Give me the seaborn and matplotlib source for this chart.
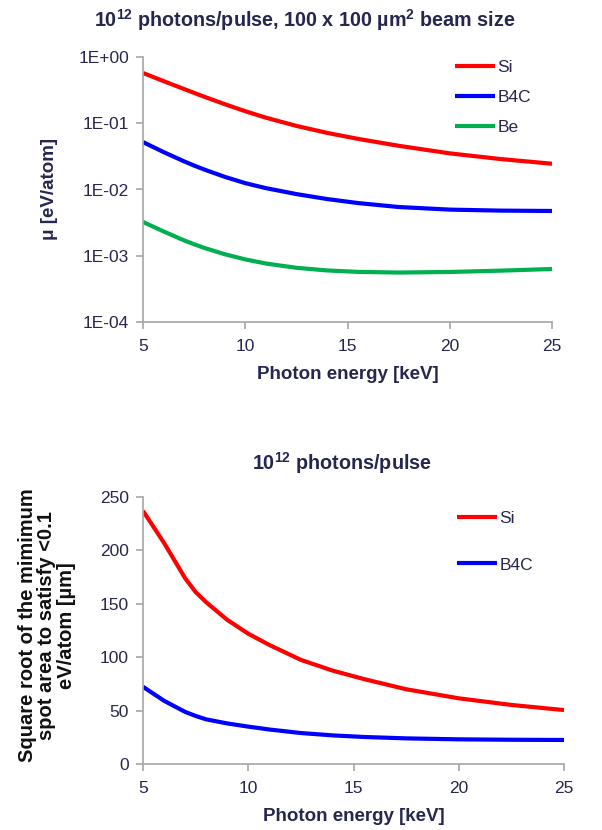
import numpy as np
import pandas as pd
import matplotlib
matplotlib.use("Agg")
import matplotlib.pyplot as plt
import seaborn as sns
from matplotlib.ticker import FixedLocator, FuncFormatter, NullLocator

# ---- data ----
energy = [5, 6, 7, 7.5, 8, 9, 10, 11, 12.5, 14, 15.5, 17.5, 20, 22.5, 25]
mu_si = [0.574, 0.4335, 0.329, 0.2873, 0.251, 0.194, 0.152, 0.1216, 0.0912, 0.0716,
         0.0582, 0.0457, 0.0351, 0.0288, 0.0245]
mu_b4c = [0.0520, 0.0368, 0.02667, 0.02296, 0.0200, 0.01552, 0.01247, 0.01050, 0.00853,
          0.00718, 0.00625, 0.00544, 0.00497, 0.00480, 0.00474]
mu_be = [0.003236, 0.002333, 0.001710, 0.001491, 0.001312, 0.001054, 0.000881, 0.000764,
         0.000658, 0.000600, 0.000571, 0.000558, 0.000569, 0.000596, 0.000631]
spot_si = [237, 207, 174, 161, 151.5, 135, 122, 111.5, 97.5, 87.5, 79.5, 70.0, 61.5, 55.3, 50.5]
spot_b4c = [72.3, 59.2, 48.8, 45.0, 41.8, 38.0, 35.0, 32.3, 29.0, 26.8, 25.3, 24.0, 23.1, 22.7, 22.5]
materials_top = ["Si", "B4C", "Be"]
materials_bot = ["Si", "B4C"]
colors = {"Si": "#FF0000", "B4C": "#0000FF", "Be": "#00B050"}
x_ticks = [5, 10, 15, 20, 25]
y_ticks_top = [1e-4, 1e-3, 1e-2, 1e-1, 1e0]
y_ticks_bot = [0, 50, 100, 150, 200, 250]

top_df = pd.concat([
    pd.DataFrame({"E": energy, "v": vals, "mat": m})
    for m, vals in zip(materials_top, [mu_si, mu_b4c, mu_be])
])
bot_df = pd.concat([
    pd.DataFrame({"E": energy, "v": vals, "mat": m})
    for m, vals in zip(materials_bot, [spot_si, spot_b4c])
])

sns.set_style("white")
plt.rcParams["font.family"] = ["Liberation Sans", "DejaVu Sans"]
plt.rcParams["mathtext.fontset"] = "custom"
plt.rcParams["mathtext.rm"] = "Liberation Sans"
plt.rcParams["mathtext.bf"] = "Liberation Sans:bold"

txt = "#26264E"
spine_c = "#A6A6A6"
fs_tick = 12.5
lw = 3.0

fig = plt.figure(figsize=(6.02, 8.30), dpi=100)
ax1 = fig.add_axes([143/602, 1-322/830, (552-143)/602, (322-57)/830])
ax2 = fig.add_axes([143/602, 1-764/830, (564-143)/602, (764-497)/830])

sns.lineplot(data=top_df, x="E", y="v", hue="mat", palette=colors, ax=ax1,
             linewidth=lw, legend=True)
sns.lineplot(data=bot_df, x="E", y="v", hue="mat", palette=colors, ax=ax2,
             linewidth=lw, legend=True)
for ax in (ax1, ax2):
    for ln in ax.get_lines():
        ln.set_solid_joinstyle("round")
        ln.set_solid_capstyle("butt")

ax1.set_yscale("log")
ax1.set_ylim(1e-4, 1)
ax1.yaxis.set_major_locator(FixedLocator(y_ticks_top))
ax1.yaxis.set_minor_locator(NullLocator())
ax1.yaxis.set_major_formatter(FuncFormatter(lambda v, p: "1E%+03d" % int(round(np.log10(v)))))
ax2.set_ylim(0, 250)
ax2.set_yticks(y_ticks_bot)

for ax in (ax1, ax2):
    ax.set_xlim(5, 25)
    ax.set_xticks(x_ticks)
    for s in ("top", "right"):
        ax.spines[s].set_visible(False)
    for s in ("left", "bottom"):
        ax.spines[s].set_color(spine_c)
        ax.spines[s].set_linewidth(1.2)
    ax.tick_params(axis="both", which="major", direction="out", length=5,
                   width=1.2, color=spine_c, labelsize=fs_tick, labelcolor=txt,
                   left=True, bottom=True, pad=5)
    ax.tick_params(axis="x", pad=7)
    ax.set_xlabel("Photon energy [keV]", fontsize=13.5, fontweight="bold",
                  color=txt, labelpad=9)

leg1 = ax1.legend(frameon=False, fontsize=fs_tick, handlelength=2.3,
                  handletextpad=0.15, loc="upper left", labelspacing=0.84,
                  borderpad=0, borderaxespad=0,
                  bbox_to_anchor=((455-143)/409, (322-60)/265), labelcolor=txt)
for h in leg1.get_lines():
    h.set_linewidth(lw)
leg2 = ax2.legend(frameon=False, fontsize=fs_tick, handlelength=2.3,
                  handletextpad=0.15, loc="upper left", labelspacing=1.8,
                  borderpad=0, borderaxespad=0,
                  bbox_to_anchor=((457-143)/421, (764-511)/267), labelcolor=txt)
for h in leg2.get_lines():
    h.set_linewidth(lw)

ax1.set_ylabel("μ [eV/atom]", fontsize=13.5, fontweight="bold", color=txt, va="center")
ax1.yaxis.set_label_coords((50-143)/409, 0.5)
ax2.set_ylabel("Square root of the mimimum\nspot area to satisfy <0.1\neV/atom [µm]",
               fontsize=14.5, fontweight="bold", color="#111111", va="center",
               linespacing=1.05, multialignment="center")
ax2.yaxis.set_label_coords((47-143)/421, 0.52)

fig.text(305/602, 1-20/830, r"10$^{\mathbf{12}}$ photons/pulse, 100 x 100 µm$^{\mathbf{2}}$ beam size",
         ha="center", va="center", fontsize=14.2, fontweight="bold", color=txt)
fig.text(342/602, 1-463/830, r"10$^{\mathbf{12}}$ photons/pulse",
         ha="center", va="center", fontsize=14.2, fontweight="bold", color=txt)

fig.savefig("out.png", dpi=100)
